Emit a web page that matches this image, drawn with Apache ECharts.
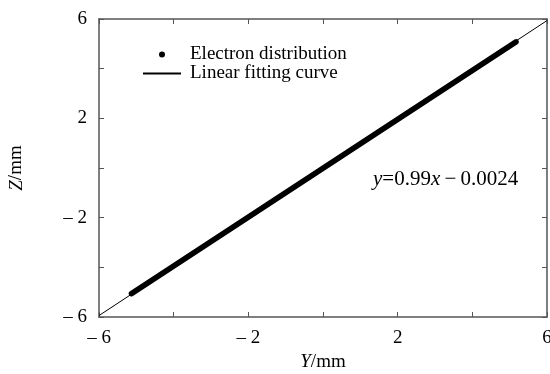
<!DOCTYPE html>
<html>
<head>
<meta charset="utf-8">
<script src="https://cdn.jsdelivr.net/npm/echarts@6/dist/echarts.min.js"></script>
<style>
  html, body { margin: 0; padding: 0; background: #fff; }
  #main { width: 550px; height: 374px; }
</style>
</head>
<body>
<div id="main"></div>
<script>
// ends of the dense electron band
const electronBand = [[-5.13, -5.06], [5.17, 5.08]]
// fitted line y = 0.99x - 0.0024 over the full axis range
const fitLine = [[-6, -5.9424], [6, 5.9376]]
const axisTicks = [-6, -4, -2, 0, 2, 4, 6]
const labelled = [-6, -2, 2, 6]

const serif = '"Liberation Serif", "DejaVu Serif", serif'
const axisColor = '#555'

function tickLabel(v) {
  if (labelled.indexOf(v) < 0) return ''
  return v < 0 ? '\u2013\u2005' + Math.abs(v) : String(v)
}

const chart = echarts.init(document.getElementById('main'))

const baseAxis = {
  min: axisTicks[0],
  max: axisTicks[axisTicks.length - 1],
  interval: 2,
  axisLine: { onZero: false, lineStyle: { color: axisColor, width: 1.5 } },
  axisTick: { inside: true, length: 5, lineStyle: { color: axisColor } },
  splitLine: { show: false }
}

const italic = { fontFamily: serif, fontSize: 19, fontStyle: 'italic', color: '#000' }

const option = {
  animation: false,
  backgroundColor: '#fff',
  grid: { left: 99, right: 3, top: 19, bottom: 57, outerBoundsMode: 'none', containLabel: false },
  legend: [
    {
      data: [{ name: 'Electron distribution', icon: 'circle' }],
      left: 154, top: 40,
      itemWidth: 6, itemHeight: 6,
      textStyle: { fontFamily: serif, fontSize: 19, color: '#000', padding: [0, 0, 0, 20] }
    },
    {
      data: [{ name: 'Linear fitting curve', icon: 'rect' }],
      left: 138, top: 59,
      itemWidth: 38, itemHeight: 2,
      textStyle: { fontFamily: serif, fontSize: 19, color: '#000', padding: [0, 0, 0, 4] }
    }
  ],
  title: {
    text: '{i|y}=0.99{i|x}\u2009\u2212\u20090.0024',
    left: 368, top: 164,
    textStyle: {
      fontFamily: serif, fontSize: 21, fontWeight: 'normal', color: '#000',
      rich: { i: { fontFamily: serif, fontSize: 21, fontStyle: 'italic', color: '#000' } }
    }
  },
  xAxis: [
    Object.assign({}, baseAxis, {
      type: 'value',
      position: 'bottom',
      name: '{i|Y}/mm',
      nameLocation: 'middle',
      nameGap: 30,
      nameTextStyle: { fontFamily: serif, fontSize: 19, color: '#000', rich: { i: italic } },
      axisLabel: { formatter: tickLabel, margin: 12, fontFamily: serif, fontSize: 19, color: '#000' }
    }),
    Object.assign({}, baseAxis, {
      type: 'value',
      position: 'top',
      axisLabel: { show: false }
    })
  ],
  yAxis: [
    Object.assign({}, baseAxis, {
      type: 'value',
      position: 'left',
      name: '{i|Z}/mm',
      nameLocation: 'middle',
      nameGap: 73,
      nameTextStyle: { fontFamily: serif, fontSize: 19, color: '#000', rich: { i: italic } },
      axisLabel: { formatter: tickLabel, margin: 12, fontFamily: serif, fontSize: 19, color: '#000' }
    }),
    Object.assign({}, baseAxis, {
      type: 'value',
      position: 'right',
      axisLabel: { show: false }
    })
  ],
  series: [
    {
      name: 'Electron distribution',
      type: 'line',
      data: electronBand,
      showSymbol: false,
      color: '#000',
      lineStyle: { color: '#000', width: 5.5, cap: 'round' },
      z: 3
    },
    {
      name: 'Linear fitting curve',
      type: 'line',
      data: fitLine,
      showSymbol: false,
      color: '#000',
      lineStyle: { color: '#000', width: 1 },
      z: 2
    }
  ]
}

chart.setOption(option)
</script>
</body>
</html>
